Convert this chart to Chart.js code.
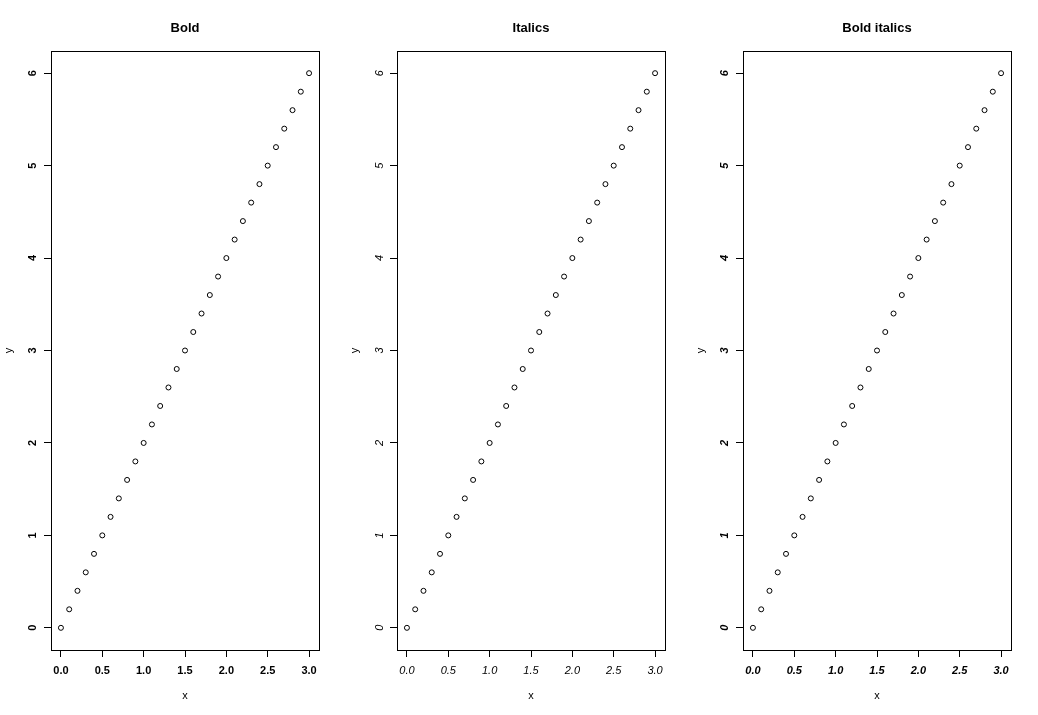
<!DOCTYPE html>
<html>
<head>
<meta charset="utf-8">
<script src="https://cdn.jsdelivr.net/npm/chart.js@4"></script>
<style>
  html, body { margin: 0; padding: 0; background: #fff; }
  #wrap { position: relative; width: 1038px; height: 715px; }
  canvas { position: absolute; top: 0; }
</style>
</head>
<body>
<div id="wrap">
  <canvas id="c0" width="346" height="715" style="left:0px"></canvas>
  <canvas id="c1" width="346" height="715" style="left:346px"></canvas>
  <canvas id="c2" width="346" height="715" style="left:692px"></canvas>
</div>
<script>
// ---- data ----
const xValues = [0.0, 0.1, 0.2, 0.3, 0.4, 0.5, 0.6, 0.7, 0.8, 0.9, 1.0, 1.1, 1.2, 1.3, 1.4, 1.5, 1.6, 1.7, 1.8, 1.9, 2.0, 2.1, 2.2, 2.3, 2.4, 2.5, 2.6, 2.7, 2.8, 2.9, 3.0];
const yValues = [0.0, 0.2, 0.4, 0.6, 0.8, 1.0, 1.2, 1.4, 1.6, 1.8, 2.0, 2.2, 2.4, 2.6, 2.8, 3.0, 3.2, 3.4, 3.6, 3.8, 4.0, 4.2, 4.4, 4.6, 4.8, 5.0, 5.2, 5.4, 5.6, 5.8, 6.0];
const panelTitles = ["Bold", "Italics", "Bold italics"];
const tickWeights = ["bold", "normal", "bold"];
const tickStyles = ["normal", "italic", "italic"];
const xTicks = [0.0, 0.5, 1.0, 1.5, 2.0, 2.5, 3.0];
const xTickLabels = ["0.0", "0.5", "1.0", "1.5", "2.0", "2.5", "3.0"];
const yTicks = [0, 1, 2, 3, 4, 5, 6];
const yTickLabels = ["0", "1", "2", "3", "4", "5", "6"];
const xAxisTitle = "x";
const yAxisTitle = "y";

const FAMILY = "'Liberation Sans', Arial, sans-serif";

const boxPlugin = {
  id: 'box',
  afterDraw(chart) {
    const {ctx, chartArea: a} = chart;
    ctx.save();
    ctx.strokeStyle = '#000';
    ctx.lineWidth = 1;
    const l = Math.round(a.left) + 0.5, t = Math.round(a.top) + 0.5;
    const r = Math.round(a.right) + 0.5, b = Math.round(a.bottom) + 0.5;
    ctx.strokeRect(l, t, r - l, b - t);
    ctx.restore();
  }
};

panelTitles.forEach((title, i) => {
  const tickFont = { family: FAMILY, size: 11, weight: tickWeights[i], style: tickStyles[i] };
  const points = xValues.map((x, k) => ({ x: x, y: yValues[k] }));
  new Chart(document.getElementById('c' + i), {
    type: 'scatter',
    data: {
      datasets: [{
        data: points,
        pointStyle: 'circle',
        pointRadius: 2.5,
        pointHoverRadius: 2.5,
        borderWidth: 1,
        borderColor: '#000',
        backgroundColor: 'rgba(0,0,0,0)',
        showLine: false
      }]
    },
    options: {
      responsive: false,
      animation: false,
      devicePixelRatio: 1,
      events: [],
      layout: { padding: { top: 0, left: 0, right: 27, bottom: 0 } },
      plugins: {
        legend: { display: false },
        tooltip: { enabled: false },
        title: {
          display: true,
          text: title,
          fullSize: false,
          color: '#000',
          font: { family: FAMILY, size: 13, weight: 'bold' },
          padding: { top: 21, bottom: 14.4 }
        }
      },
      scales: {
        x: {
          type: 'linear',
          position: 'bottom',
          min: -0.12,
          max: 3.12,
          afterBuildTicks: (s) => { s.ticks = xTicks.map(v => ({ value: v })); },
          afterFit: (s) => { s.height = 65; },
          ticks: {
            autoSkip: false,
            maxRotation: 0,
            minRotation: 0,
            padding: 7.4,
            color: '#000',
            font: tickFont,
            callback: (v) => { const k = xTicks.indexOf(v); return k >= 0 ? xTickLabels[k] : ''; }
          },
          grid: {
            display: true,
            drawOnChartArea: false,
            drawTicks: true,
            tickLength: 7,
            tickColor: '#000',
            tickWidth: 1,
            color: '#000'
          },
          border: { display: true, color: '#000', width: 1 },
          title: {
            display: true,
            text: xAxisTitle,
            color: '#000',
            font: { family: FAMILY, size: 11, weight: 'normal' },
            padding: { top: 0, bottom: 12.4 }
          }
        },
        y: {
          type: 'linear',
          position: 'left',
          min: -0.24,
          max: 6.24,
          afterBuildTicks: (s) => { s.ticks = yTicks.map(v => ({ value: v })); },
          afterFit: (s) => { s.width = 51; },
          ticks: {
            autoSkip: false,
            minRotation: 90,
            maxRotation: 90,
            crossAlign: 'center',
            padding: 7.5,
            color: '#000',
            font: tickFont,
            callback: (v) => { const k = yTicks.indexOf(v); return k >= 0 ? yTickLabels[k] : ''; }
          },
          grid: {
            display: true,
            drawOnChartArea: false,
            drawTicks: true,
            tickLength: 7,
            tickColor: '#000',
            tickWidth: 1,
            color: '#000'
          },
          border: { display: true, color: '#000', width: 1 },
          title: {
            display: true,
            text: yAxisTitle,
            color: '#000',
            font: { family: FAMILY, size: 11, weight: 'normal' },
            padding: { top: 2.4, bottom: 0 }
          }
        }
      }
    },
    plugins: [boxPlugin]
  });
});
</script>
</body>
</html>
